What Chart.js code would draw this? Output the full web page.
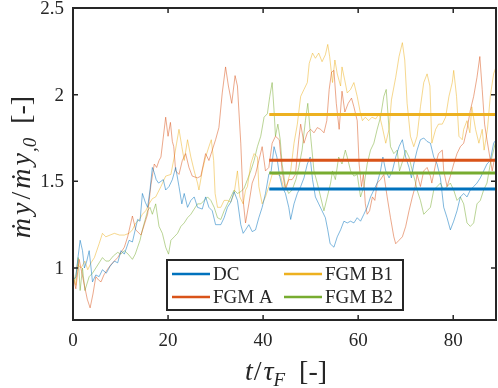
<!DOCTYPE html>
<html>
<head>
<meta charset="utf-8">
<script src="https://cdn.jsdelivr.net/npm/chart.js@4"></script>
<style>
  html, body { margin: 0; padding: 0; background: #fff; }
</style>
</head>
<body>
<canvas id="myChart" width="498" height="388"></canvas>
<script>
// [t/tau_F, mdot/mdot0]
const dcPts = [[0,0.93],[0.6,0.95],[1.0,1.05],[1.5,1.16],[2.0,1.10],[2.4,1.00],[2.9,1.04],[3.4,1.10],[3.8,1.00],[4.1,0.92],[4.8,0.96],[5.5,0.95],[6.2,0.99],[7.0,0.97],[7.8,1.01],[8.7,1.04],[9.4,1.03],[10.1,1.10],[10.8,1.08],[11.8,1.16],[12.5,1.15],[13.6,1.28],[14.1,1.27],[14.6,1.43],[15.2,1.38],[15.7,1.35],[16.2,1.45],[16.7,1.58],[17.1,1.55],[17.5,1.51],[18.0,1.49],[18.5,1.50],[19.0,1.51],[19.5,1.45],[20.2,1.47],[20.9,1.51],[21.6,1.58],[22.3,1.47],[22.9,1.37],[23.4,1.43],[24.1,1.35],[24.8,1.39],[25.5,1.41],[26.2,1.35],[27.2,1.34],[27.9,1.41],[28.6,1.35],[29.3,1.33],[30.0,1.25],[31.1,1.25],[31.8,1.29],[32.5,1.35],[33.2,1.38],[33.9,1.44],[34.6,1.39],[35.3,1.25],[35.8,1.20],[36.3,1.22],[37.0,1.25],[37.7,1.21],[38.4,1.22],[39.1,1.29],[39.8,1.35],[40.5,1.43],[41.2,1.54],[41.7,1.56],[42.3,1.70],[42.9,1.64],[43.4,1.54],[44.0,1.47],[44.7,1.43],[45.4,1.35],[45.8,1.28],[46.5,1.37],[47.2,1.43],[47.9,1.47],[48.6,1.52],[49.3,1.60],[49.9,1.64],[50.4,1.51],[51.0,1.41],[51.7,1.37],[52.4,1.33],[53.1,1.29],[53.6,1.22],[54.1,1.14],[54.9,1.12],[55.6,1.18],[56.3,1.22],[57.0,1.27],[57.7,1.26],[58.4,1.27],[59.1,1.26],[59.8,1.29],[60.5,1.27],[61.2,1.31],[61.9,1.35],[62.6,1.41],[63.3,1.45],[64.0,1.49],[64.7,1.56],[65.2,1.64],[65.8,1.56],[66.5,1.52],[67.2,1.56],[67.9,1.64],[68.6,1.70],[69.3,1.74],[70.0,1.64],[70.7,1.58],[71.2,1.52],[71.7,1.60],[72.4,1.68],[73.1,1.74],[73.8,1.75],[74.5,1.73],[75.2,1.72],[75.9,1.64],[76.6,1.60],[77.3,1.52],[78.0,1.35],[78.7,1.29],[79.4,1.22],[80.1,1.27],[80.8,1.33],[81.5,1.41],[82.2,1.43],[82.9,1.41],[83.6,1.45],[84.3,1.47],[85.0,1.49],[85.7,1.52],[86.4,1.56],[87.1,1.60],[87.8,1.62],[88.5,1.72],[89.0,1.74]];

const fgmAPts = [[0,0.95],[0.6,0.88],[1.0,0.98],[1.3,1.05],[1.8,0.98],[2.4,0.90],[3.0,0.82],[3.6,0.77],[4.2,0.85],[4.8,0.95],[5.4,0.93],[5.9,0.92],[6.5,0.96],[7.2,0.99],[8.0,1.02],[8.7,1.04],[9.4,1.06],[10.1,1.09],[10.8,1.12],[11.5,1.18],[12.5,1.30],[13.2,1.22],[14.3,1.19],[15.0,1.25],[15.7,1.31],[16.4,1.48],[17.1,1.60],[17.6,1.58],[18.1,1.62],[18.5,1.64],[19.5,1.87],[20.0,1.76],[20.5,1.84],[20.9,1.73],[21.2,1.70],[21.6,1.56],[22.3,1.54],[23.0,1.62],[23.7,1.66],[24.4,1.58],[25.1,1.53],[26.2,1.52],[26.9,1.53],[27.9,1.66],[28.6,1.62],[29.3,1.68],[30.0,1.74],[30.7,1.81],[31.4,2.01],[32.1,2.16],[32.7,2.05],[33.4,1.95],[34.1,2.11],[34.6,2.05],[35.3,1.72],[35.8,1.39],[36.3,1.26],[37.0,1.37],[37.7,1.49],[38.4,1.54],[39.1,1.62],[39.8,1.70],[40.5,1.56],[41.2,1.58],[41.9,1.72],[42.6,1.76],[43.4,1.74],[44.0,1.56],[44.7,1.45],[45.4,1.51],[46.1,1.51],[46.8,1.54],[47.5,1.74],[47.9,1.83],[48.6,1.72],[49.3,1.78],[50.0,1.80],[50.7,1.78],[51.4,1.81],[52.1,1.80],[52.8,1.78],[53.4,1.85],[53.9,2.03],[54.4,2.13],[54.9,2.14],[55.4,1.95],[56.0,1.80],[56.6,2.02],[57.2,1.90],[57.9,1.95],[58.6,1.98],[59.1,1.93],[59.8,1.85],[60.2,1.60],[60.7,1.47],[61.1,1.54],[61.5,1.37],[61.9,1.31],[62.4,1.33],[63.0,1.41],[63.5,1.39],[64.0,1.49],[64.7,1.51],[65.4,1.54],[66.1,1.41],[66.8,1.29],[67.5,1.18],[67.9,1.14],[68.6,1.16],[69.3,1.18],[70.0,1.24],[70.7,1.33],[71.4,1.41],[72.0,1.47],[72.4,1.54],[73.1,1.47],[73.8,1.56],[74.5,1.58],[75.2,1.53],[75.5,1.49],[76.3,1.60],[76.9,1.66],[77.7,1.68],[78.0,1.56],[78.7,1.47],[79.4,1.53],[80.1,1.60],[80.8,1.66],[81.5,1.70],[82.2,1.72],[82.9,1.80],[83.6,1.91],[84.3,1.99],[85.0,2.10],[85.6,2.22],[86.1,2.03],[86.6,1.83],[87.1,1.74],[87.7,1.64],[88.2,1.56],[88.6,1.62],[89.0,1.64]];

const fgmB1Pts = [[0,0.98],[0.6,0.90],[1.0,1.02],[1.7,1.00],[2.5,1.04],[3.1,0.99],[3.8,1.03],[4.5,1.06],[5.5,1.14],[6.2,1.20],[6.9,1.18],[7.8,1.19],[8.7,1.20],[9.8,1.19],[10.8,1.19],[11.8,1.20],[12.5,1.22],[13.2,1.26],[14.0,1.28],[14.6,1.31],[15.3,1.33],[16.0,1.37],[16.7,1.40],[17.4,1.41],[18.5,1.47],[19.5,1.53],[20.6,1.54],[21.3,1.64],[21.8,1.72],[22.3,1.80],[22.9,1.70],[23.4,1.62],[24.1,1.74],[24.8,1.64],[25.5,1.56],[26.2,1.49],[26.5,1.45],[27.2,1.56],[27.9,1.64],[28.6,1.70],[29.1,1.74],[29.6,1.62],[29.9,1.43],[30.4,1.35],[31.1,1.35],[31.8,1.39],[32.5,1.39],[33.2,1.38],[33.9,1.43],[34.6,1.56],[35.1,1.41],[35.8,1.37],[36.3,1.45],[36.7,1.47],[37.4,1.60],[38.1,1.66],[38.8,1.64],[39.1,1.47],[39.8,1.37],[40.5,1.41],[41.2,1.47],[41.9,1.54],[43.0,1.54],[43.7,1.53],[44.4,1.45],[45.1,1.49],[45.8,1.56],[46.5,1.72],[47.2,1.83],[47.9,1.99],[48.6,2.03],[49.3,2.07],[49.7,2.18],[50.4,2.24],[51.0,2.21],[51.7,2.24],[52.4,2.19],[53.1,2.23],[53.6,2.29],[54.0,2.22],[54.6,2.07],[55.1,2.20],[55.6,2.12],[56.3,2.05],[56.6,2.16],[57.2,2.08],[57.7,2.01],[58.4,2.03],[59.1,2.07],[59.8,1.99],[60.5,1.89],[60.9,1.85],[61.5,1.87],[62.2,1.85],[62.9,1.87],[63.7,1.86],[64.4,1.89],[65.1,1.81],[65.8,1.72],[66.5,1.80],[67.0,1.97],[67.9,2.10],[68.6,2.22],[69.3,2.30],[69.8,2.20],[70.3,1.95],[71.0,1.76],[71.7,1.70],[72.4,1.76],[73.1,1.93],[73.8,2.07],[74.5,2.12],[75.1,2.05],[75.5,1.72],[76.3,1.80],[76.9,1.83],[77.7,1.83],[78.4,1.87],[79.1,1.99],[79.8,2.07],[80.1,2.14],[80.7,1.99],[81.2,1.76],[81.9,1.74],[82.2,1.80],[82.9,1.85],[83.5,1.78],[83.9,1.93],[84.7,1.80],[85.4,1.72],[86.1,1.80],[86.5,1.68],[87.2,1.80],[87.8,1.99],[88.5,2.12],[89.0,2.16]];

const fgmB2Pts = [[0,0.90],[0.6,0.95],[1.1,1.06],[1.5,0.87],[2.0,1.00],[2.5,0.87],[3.4,0.95],[4.1,0.97],[4.8,1.00],[5.5,1.03],[6.2,1.06],[6.9,1.04],[7.6,1.04],[8.5,1.07],[9.4,1.09],[10.1,1.08],[10.8,1.10],[11.6,1.08],[12.5,1.05],[13.1,1.08],[13.6,1.12],[14.1,1.16],[14.6,1.22],[15.2,1.28],[15.7,1.33],[16.2,1.35],[16.7,1.31],[17.4,1.37],[18.1,1.24],[18.8,1.20],[19.5,1.12],[20.1,1.08],[20.6,1.16],[21.3,1.18],[22.0,1.20],[22.7,1.24],[23.4,1.26],[24.1,1.29],[24.8,1.31],[25.5,1.34],[26.2,1.37],[26.9,1.37],[27.6,1.39],[28.3,1.41],[29.0,1.39],[29.7,1.35],[30.4,1.29],[31.1,1.28],[31.8,1.33],[32.5,1.37],[33.2,1.41],[33.9,1.45],[34.6,1.43],[35.3,1.44],[36.0,1.46],[36.7,1.51],[37.4,1.56],[38.1,1.62],[38.8,1.70],[39.5,1.76],[40.2,1.87],[40.9,1.89],[41.4,1.99],[41.9,2.07],[42.3,1.91],[42.6,1.76],[43.1,1.83],[43.6,1.74],[44.0,1.60],[44.7,1.47],[45.4,1.43],[46.1,1.45],[46.9,1.51],[47.5,1.58],[48.2,1.68],[48.9,1.85],[49.4,1.95],[50.0,1.76],[50.7,1.56],[51.4,1.49],[52.1,1.41],[52.8,1.33],[53.5,1.41],[54.2,1.49],[54.6,1.56],[55.2,1.51],[55.9,1.64],[56.6,1.60],[57.3,1.68],[57.7,1.64],[58.4,1.56],[59.1,1.53],[59.8,1.54],[60.5,1.41],[61.2,1.47],[61.9,1.60],[62.6,1.68],[63.3,1.72],[64.0,1.80],[64.7,1.87],[65.4,1.99],[65.9,2.03],[66.5,1.80],[66.8,1.70],[67.5,1.66],[68.2,1.68],[68.7,1.56],[69.4,1.62],[70.0,1.68],[70.7,1.64],[71.4,1.56],[72.0,1.50],[72.4,1.45],[73.1,1.39],[73.8,1.31],[74.5,1.33],[75.2,1.35],[75.9,1.45],[76.6,1.47],[77.3,1.49],[78.0,1.45],[78.7,1.47],[79.4,1.49],[80.1,1.45],[80.8,1.39],[81.5,1.41],[82.2,1.37],[82.9,1.26],[83.6,1.24],[84.3,1.26],[85.0,1.37],[85.7,1.39],[86.4,1.45],[87.1,1.49],[87.8,1.60],[88.5,1.68],[89.0,1.74]];

const seriesNames = ["DC", "FGM A", "FGM B1", "FGM B2"];
const seriesColors = ["#0072BD", "#D95319", "#EDB120", "#77AC30"];
const traceColors = ["rgba(0,114,189,0.5)", "rgba(217,83,25,0.5)", "rgba(237,177,32,0.5)", "rgba(119,172,48,0.5)"];
const meanValues = [1.456, 1.621, 1.885, 1.548];
const meanStart = 41.3;
const xMax = 89;
const xTicks = [0, 20, 40, 60, 80];
const yTicks = [1, 1.5, 2, 2.5];

const axisColor = "#262626";
const serif = "'Liberation Serif', 'Times New Roman', serif";

function toXY(pts) {
  return pts.map(([x, y]) => ({ x, y }));
}

const allPts = [dcPts, fgmAPts, fgmB1Pts, fgmB2Pts];

const datasets = [];
meanValues.forEach((m, i) => {
  datasets.push({
    label: seriesNames[i] + " mean",
    data: [{ x: meanStart, y: m }, { x: xMax, y: m }],
    borderColor: seriesColors[i],
    borderWidth: 3,
    order: 0,
  });
});
allPts.forEach((pts, i) => {
  datasets.push({
    label: seriesNames[i],
    data: toXY(pts),
    borderColor: traceColors[i],
    borderWidth: 1,
    order: 1,
  });
});

// draw a row of text pieces (used for the math-like axis titles)
function pieceRow(ctx, pieces, cx, baseline) {
  let total = 0;
  pieces.forEach((p) => {
    ctx.font = p.font;
    p.w = ctx.measureText(p.text).width;
    total += p.w + (p.gap || 0);
  });
  let x = cx - total / 2;
  ctx.textAlign = "left";
  ctx.textBaseline = "alphabetic";
  pieces.forEach((p) => {
    ctx.font = p.font;
    ctx.fillText(p.text, x, baseline + (p.dy || 0));
    x += p.w + (p.gap || 0);
  });
}

const axesPlugin = {
  id: "matlabAxes",
  afterDatasetsDraw(chart) {
    const { ctx, chartArea: a, scales } = chart;
    const xs = scales.x, ys = scales.y;
    ctx.save();

    // ticks pointing inwards, all four sides
    ctx.strokeStyle = axisColor;
    ctx.lineWidth = 1.5;
    ctx.beginPath();
    xTicks.forEach((v) => {
      const px = xs.getPixelForValue(v);
      ctx.moveTo(px, a.bottom); ctx.lineTo(px, a.bottom - 5);
      ctx.moveTo(px, a.top); ctx.lineTo(px, a.top + 5);
    });
    yTicks.forEach((v) => {
      const py = ys.getPixelForValue(v);
      ctx.moveTo(a.left, py); ctx.lineTo(a.left + 5, py);
      ctx.moveTo(a.right, py); ctx.lineTo(a.right - 5, py);
    });
    ctx.stroke();

    // box
    ctx.lineWidth = 2;
    ctx.strokeRect(a.left, a.top, a.right - a.left, a.bottom - a.top);

    // tick labels
    ctx.fillStyle = axisColor;
    ctx.font = "19px " + serif;
    ctx.textBaseline = "alphabetic";
    ctx.textAlign = "center";
    xTicks.forEach((v) => ctx.fillText(String(v), xs.getPixelForValue(v), a.bottom + 26));
    ctx.textAlign = "right";
    yTicks.forEach((v) => ctx.fillText(String(v), a.left - 9, ys.getPixelForValue(v) + 6));

    // x title: t/tau_F [-]
    const big = "28px " + serif;
    const bigIt = "italic 28px " + serif;
    const subIt = "italic 19px " + serif;
    pieceRow(ctx, [
      { text: "t", font: bigIt, gap: 1 },
      { text: "/", font: big, gap: 2 },
      { text: "τ", font: bigIt, gap: 0 },
      { text: "F", font: subIt, dy: 6, gap: 14 },
      { text: "[-]", font: big },
    ], 286, 380);

    // y title: mdot_y / mdot_y,0 [-]
    ctx.save();
    ctx.translate(30, (a.top + a.bottom) / 2 + 3);
    ctx.rotate(-Math.PI / 2);
    pieceRow(ctx, [
      { text: "ṁ", font: bigIt, gap: 3 },
      { text: "y", font: bigIt, gap: 3 },
      { text: "/", font: big, gap: 3 },
      { text: "ṁ", font: bigIt, gap: 3 },
      { text: "y", font: bigIt, gap: 1 },
      { text: ",0", font: subIt, dy: 6, gap: 14 },
      { text: "[-]", font: big },
    ], 0, 0);
    ctx.restore();

    // legend box
    const lx = 167, ly = 260, lw = 236, lh = 50;
    ctx.fillStyle = "#fff";
    ctx.fillRect(lx, ly, lw, lh);
    ctx.strokeStyle = axisColor;
    ctx.lineWidth = 2;
    ctx.strokeRect(lx, ly, lw, lh);
    ctx.font = "19px " + serif;
    ctx.textAlign = "left";
    ctx.textBaseline = "alphabetic";
    const cols = [lx + 5, lx + 117];
    const rows = [ly + 14, ly + 37];
    const slots = [[0, 0], [1, 0], [0, 1], [1, 1]]; // [row, col] for DC, FGM A, FGM B1, FGM B2
    seriesNames.forEach((name, i) => {
      const [r, c] = slots[i];
      const x0 = cols[c], yy = rows[r];
      ctx.strokeStyle = seriesColors[i];
      ctx.lineWidth = 2.5;
      ctx.beginPath();
      ctx.moveTo(x0, yy); ctx.lineTo(x0 + 38, yy);
      ctx.stroke();
      ctx.fillStyle = axisColor;
      ctx.fillText(name, x0 + 41, yy + 6);
    });

    ctx.restore();
  },
};

function setup() {
  const ctx = document.getElementById("myChart").getContext("2d");
  new Chart(ctx, {
    type: "line",
    data: { datasets },
    options: {
      responsive: false,
      animation: false,
      devicePixelRatio: 1,
      layout: { padding: { left: 73, right: 2, top: 8, bottom: 68 } },
      elements: { point: { radius: 0 }, line: { tension: 0 } },
      plugins: { legend: { display: false }, tooltip: { enabled: false } },
      scales: {
        x: { type: "linear", min: 0, max: xMax, display: false },
        y: { type: "linear", min: 0.7, max: 2.5, display: false },
      },
    },
    plugins: [axesPlugin],
  });
}

window.addEventListener("load", setup);
</script>
</body>
</html>
